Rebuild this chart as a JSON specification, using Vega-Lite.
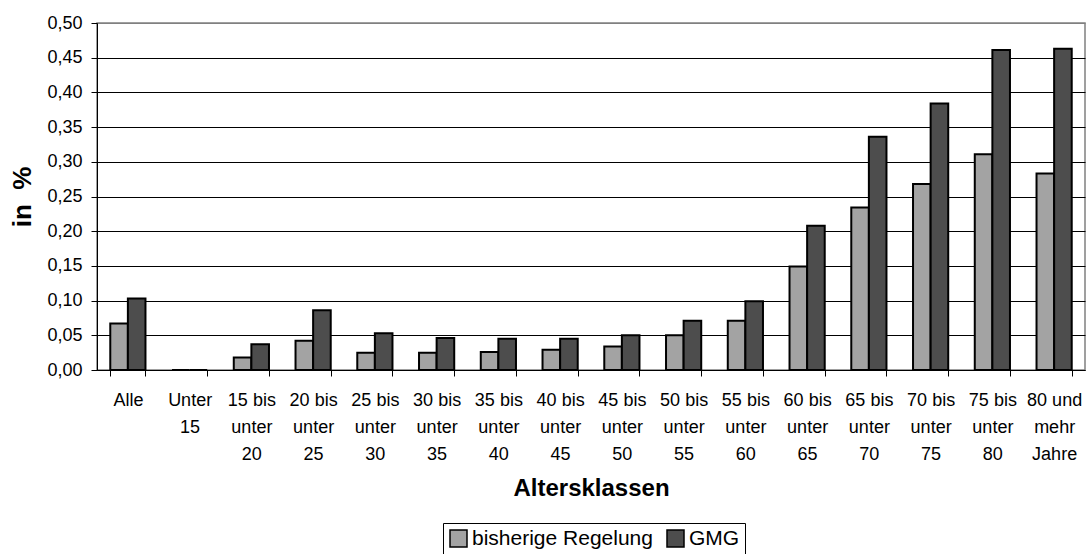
{
  "$schema": "https://vega.github.io/schema/vega-lite/v6.json",
  "width": 988,
  "height": 347,
  "autosize": {"type": "none"},
  "padding": {"left": 97, "top": 23, "right": 2, "bottom": 184},
  "background": "white",
  "config": {
    "font": "Liberation Sans",
    "view": {"stroke": "#808080", "strokeWidth": 1.5}
  },
  "data": {
    "values": [
      {"Altersklasse": "Alle", "Regelung": "bisherige Regelung", "Wert": 0.067},
      {"Altersklasse": "Alle", "Regelung": "GMG", "Wert": 0.103},
      {"Altersklasse": "Unter 15", "Regelung": "bisherige Regelung", "Wert": 0},
      {"Altersklasse": "Unter 15", "Regelung": "GMG", "Wert": 0},
      {"Altersklasse": "15 bis unter 20", "Regelung": "bisherige Regelung", "Wert": 0.018},
      {"Altersklasse": "15 bis unter 20", "Regelung": "GMG", "Wert": 0.037},
      {"Altersklasse": "20 bis unter 25", "Regelung": "bisherige Regelung", "Wert": 0.042},
      {"Altersklasse": "20 bis unter 25", "Regelung": "GMG", "Wert": 0.086},
      {"Altersklasse": "25 bis unter 30", "Regelung": "bisherige Regelung", "Wert": 0.025},
      {"Altersklasse": "25 bis unter 30", "Regelung": "GMG", "Wert": 0.053},
      {"Altersklasse": "30 bis unter 35", "Regelung": "bisherige Regelung", "Wert": 0.025},
      {"Altersklasse": "30 bis unter 35", "Regelung": "GMG", "Wert": 0.046},
      {"Altersklasse": "35 bis unter 40", "Regelung": "bisherige Regelung", "Wert": 0.026},
      {"Altersklasse": "35 bis unter 40", "Regelung": "GMG", "Wert": 0.045},
      {"Altersklasse": "40 bis unter 45", "Regelung": "bisherige Regelung", "Wert": 0.029},
      {"Altersklasse": "40 bis unter 45", "Regelung": "GMG", "Wert": 0.045},
      {"Altersklasse": "45 bis unter 50", "Regelung": "bisherige Regelung", "Wert": 0.034},
      {"Altersklasse": "45 bis unter 50", "Regelung": "GMG", "Wert": 0.050},
      {"Altersklasse": "50 bis unter 55", "Regelung": "bisherige Regelung", "Wert": 0.050},
      {"Altersklasse": "50 bis unter 55", "Regelung": "GMG", "Wert": 0.071},
      {"Altersklasse": "55 bis unter 60", "Regelung": "bisherige Regelung", "Wert": 0.071},
      {"Altersklasse": "55 bis unter 60", "Regelung": "GMG", "Wert": 0.099},
      {"Altersklasse": "60 bis unter 65", "Regelung": "bisherige Regelung", "Wert": 0.149},
      {"Altersklasse": "60 bis unter 65", "Regelung": "GMG", "Wert": 0.208},
      {"Altersklasse": "65 bis unter 70", "Regelung": "bisherige Regelung", "Wert": 0.234},
      {"Altersklasse": "65 bis unter 70", "Regelung": "GMG", "Wert": 0.336},
      {"Altersklasse": "70 bis unter 75", "Regelung": "bisherige Regelung", "Wert": 0.268},
      {"Altersklasse": "70 bis unter 75", "Regelung": "GMG", "Wert": 0.384},
      {"Altersklasse": "75 bis unter 80", "Regelung": "bisherige Regelung", "Wert": 0.311},
      {"Altersklasse": "75 bis unter 80", "Regelung": "GMG", "Wert": 0.461},
      {"Altersklasse": "80 und mehr Jahre", "Regelung": "bisherige Regelung", "Wert": 0.283},
      {"Altersklasse": "80 und mehr Jahre", "Regelung": "GMG", "Wert": 0.463}
    ]
  },
  "mark": {"type": "bar", "stroke": "black", "strokeWidth": 2},
  "encoding": {
    "x": {
      "field": "Altersklasse",
      "type": "nominal",
      "sort": null,
      "scale": {"paddingInner": 0.43, "paddingOuter": 0.215},
      "axis": {
        "title": "Altersklassen",
        "titleFontSize": 24,
        "titleFontWeight": "bold",
        "titleColor": "black",
        "titlePadding": 13,
        "labelAngle": 0,
        "labelFontSize": 18,
        "labelColor": "black",
        "labelLineHeight": 27,
        "labelPadding": 15,
        "labelExpr": "split(replace(replace(replace(datum.label, ' unter ', '|unter|'), 'Unter ', 'Unter|'), ' mehr ', '|mehr|'), '|')",
        "tickBand": "extent",
        "tickSize": 6,
        "tickColor": "black",
        "domainColor": "black",
        "labelOverlap": false
      }
    },
    "xOffset": {
      "field": "Regelung",
      "type": "nominal",
      "sort": ["bisherige Regelung", "GMG"],
      "scale": {"paddingInner": 0, "paddingOuter": 0}
    },
    "y": {
      "field": "Wert",
      "type": "quantitative",
      "scale": {"domain": [0, 0.5], "nice": false},
      "axis": {
        "title": "in\u00a0\u00a0%",
        "titleFontSize": 26,
        "titleFontWeight": "bold",
        "titleColor": "black",
        "titlePadding": 11,
        "values": [0, 0.05, 0.1, 0.15, 0.2, 0.25, 0.3, 0.35, 0.4, 0.45, 0.5],
        "labelExpr": "replace(format(datum.value, '.2f'), '.', ',')",
        "labelFontSize": 18,
        "labelColor": "black",
        "labelPadding": 9,
        "tickSize": 6,
        "tickColor": "black",
        "domainColor": "black",
        "grid": true,
        "gridColor": {"condition": {"test": "datum.value === 0.5", "value": "#808080"}, "value": "black"},
        "gridWidth": 1
      }
    },
    "color": {
      "field": "Regelung",
      "type": "nominal",
      "sort": ["bisherige Regelung", "GMG"],
      "scale": {"domain": ["bisherige Regelung", "GMG"], "range": ["#a3a3a3", "#4d4d4d"]},
      "legend": {
        "title": null,
        "orient": "none",
        "direction": "horizontal",
        "legendX": 346,
        "legendY": 500,
        "strokeColor": "black",
        "padding": 5,
        "symbolType": "square",
        "symbolSize": 289,
        "symbolStrokeColor": "black",
        "symbolStrokeWidth": 1.5,
        "symbolOpacity": 1,
        "labelFontSize": 21,
        "labelColor": "black",
        "labelOffset": 3,
        "labelLimit": 400,
        "columnPadding": 11
      }
    }
  }
}
